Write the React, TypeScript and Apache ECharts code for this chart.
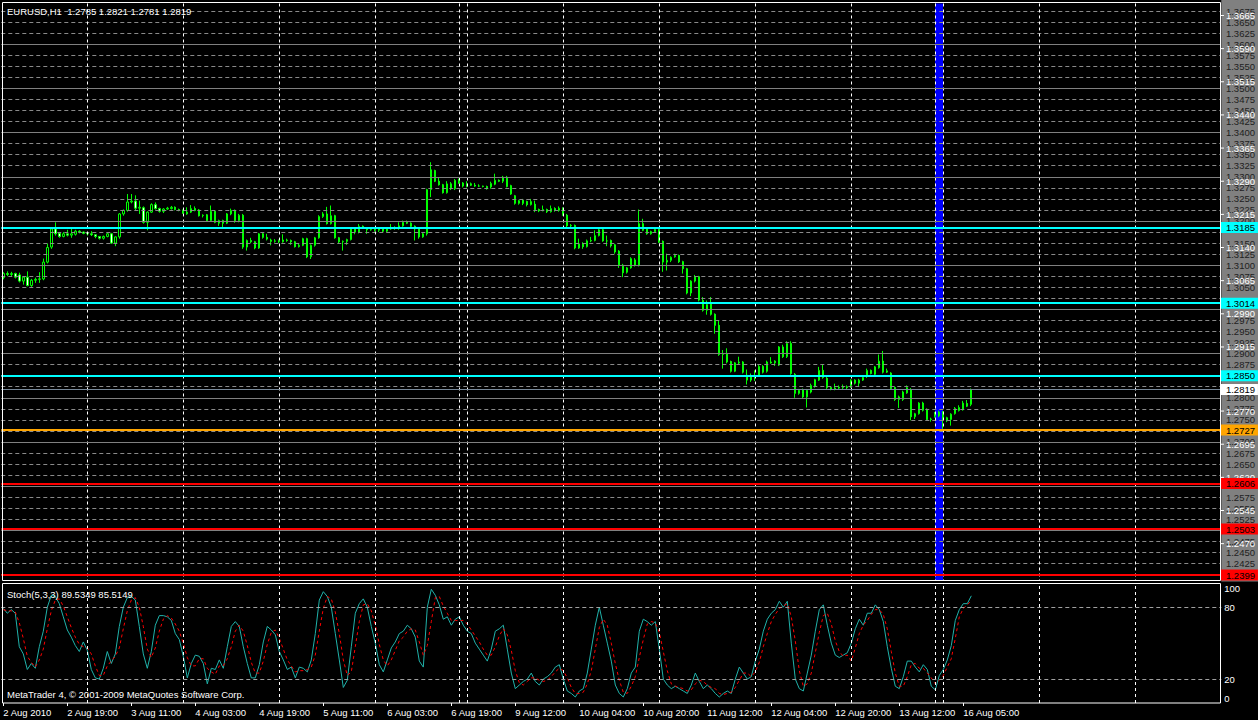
import { useEffect, useRef } from 'react';
import * as echarts from 'echarts';

// [open, high, low, close] per H1 bar, EURUSD
const ohlc: number[][] = [
  [1.3072,1.3084,1.3068,1.3081],[1.3081,1.3086,1.3075,1.3079],[1.3079,1.3085,1.3075,1.3081],[1.3081,1.3083,1.3070,1.3073],
  [1.3078,1.3083,1.3061,1.3064],[1.3064,1.3075,1.3056,1.3073],[1.3073,1.3086,1.3052,1.3054],[1.3054,1.3069,1.3051,1.3066],
  [1.3066,1.3072,1.3060,1.3068],[1.3068,1.3084,1.3060,1.3069],[1.3069,1.3115,1.3066,1.3107],[1.3107,1.3149,1.3104,1.3140],
  [1.3141,1.3186,1.3137,1.3182],[1.3182,1.3197,1.3167,1.3171],[1.3172,1.3175,1.3162,1.3165],[1.3165,1.3175,1.3163,1.3171],
  [1.3171,1.3180,1.3165,1.3168],[1.3168,1.3182,1.3162,1.3171],[1.3170,1.3180,1.3167,1.3177],[1.3177,1.3179,1.3172,1.3175],
  [1.3175,1.3176,1.3170,1.3172],[1.3172,1.3175,1.3167,1.3171],[1.3171,1.3177,1.3166,1.3169],[1.3169,1.3170,1.3161,1.3165],
  [1.3165,1.3166,1.3158,1.3161],[1.3161,1.3167,1.3158,1.3165],[1.3165,1.3175,1.3163,1.3171],[1.3171,1.3173,1.3148,1.3150],
  [1.3150,1.3165,1.3143,1.3164],[1.3164,1.3218,1.3160,1.3216],[1.3216,1.3226,1.3212,1.3224],[1.3224,1.3261,1.3221,1.3243],
  [1.3243,1.3261,1.3240,1.3245],[1.3245,1.3258,1.3224,1.3229],[1.3229,1.3246,1.3216,1.3231],[1.3230,1.3233,1.3194,1.3197],
  [1.3197,1.3222,1.3179,1.3220],[1.3220,1.3240,1.3218,1.3237],[1.3237,1.3242,1.3226,1.3228],[1.3228,1.3230,1.3219,1.3222],
  [1.3222,1.3229,1.3218,1.3227],[1.3227,1.3232,1.3225,1.3229],[1.3228,1.3234,1.3226,1.3231],[1.3231,1.3233,1.3224,1.3226],
  [1.3226,1.3228,1.3222,1.3224],[1.3224,1.3226,1.3216,1.3218],[1.3216,1.3231,1.3214,1.3220],[1.3220,1.3236,1.3218,1.3228],
  [1.3228,1.3233,1.3222,1.3224],[1.3225,1.3227,1.3210,1.3212],[1.3212,1.3215,1.3208,1.3213],[1.3214,1.3216,1.3199,1.3201],
  [1.3201,1.3235,1.3198,1.3222],[1.3222,1.3224,1.3195,1.3197],[1.3195,1.3203,1.3189,1.3201],[1.3201,1.3203,1.3186,1.3195],
  [1.3195,1.3218,1.3193,1.3216],[1.3216,1.3228,1.3213,1.3224],[1.3224,1.3226,1.3196,1.3201],[1.3201,1.3216,1.3197,1.3213],
  [1.3213,1.3216,1.3137,1.3141],[1.3141,1.3158,1.3133,1.3156],[1.3156,1.3162,1.3150,1.3153],[1.3153,1.3155,1.3136,1.3139],
  [1.3139,1.3173,1.3137,1.3171],[1.3171,1.3174,1.3160,1.3163],[1.3163,1.3171,1.3156,1.3159],[1.3157,1.3160,1.3145,1.3154],
  [1.3154,1.3159,1.3151,1.3155],[1.3155,1.3158,1.3150,1.3153],[1.3153,1.3170,1.3151,1.3157],[1.3157,1.3160,1.3153,1.3156],
  [1.3156,1.3158,1.3146,1.3153],[1.3153,1.3155,1.3140,1.3142],[1.3142,1.3148,1.3140,1.3145],[1.3145,1.3162,1.3143,1.3160],
  [1.3160,1.3162,1.3116,1.3119],[1.3119,1.3147,1.3114,1.3145],[1.3145,1.3164,1.3142,1.3162],[1.3162,1.3213,1.3160,1.3210],
  [1.3210,1.3220,1.3207,1.3216],[1.3216,1.3232,1.3192,1.3194],[1.3194,1.3235,1.3192,1.3212],[1.3212,1.3214,1.3160,1.3162],
  [1.3162,1.3164,1.3150,1.3153],[1.3153,1.3156,1.3133,1.3154],[1.3154,1.3160,1.3146,1.3158],[1.3158,1.3184,1.3156,1.3182],
  [1.3182,1.3184,1.3170,1.3175],[1.3175,1.3193,1.3172,1.3188],[1.3188,1.3190,1.3182,1.3184],[1.3184,1.3186,1.3171,1.3180],
  [1.3180,1.3184,1.3178,1.3181],[1.3181,1.3183,1.3176,1.3179],[1.3179,1.3184,1.3175,1.3182],[1.3182,1.3184,1.3175,1.3177],
  [1.3177,1.3184,1.3174,1.3182],[1.3182,1.3193,1.3180,1.3185],[1.3185,1.3188,1.3180,1.3184],[1.3184,1.3197,1.3180,1.3189],
  [1.3189,1.3201,1.3187,1.3197],[1.3197,1.3201,1.3193,1.3195],[1.3195,1.3197,1.3186,1.3188],[1.3188,1.3190,1.3156,1.3182],
  [1.3182,1.3184,1.3160,1.3164],[1.3164,1.3173,1.3162,1.3171],[1.3171,1.3273,1.3167,1.3271],[1.3271,1.3333,1.3254,1.3316],
  [1.3314,1.3316,1.3288,1.3290],[1.3290,1.3299,1.3280,1.3282],[1.3282,1.3284,1.3262,1.3264],[1.3264,1.3290,1.3262,1.3284],
  [1.3284,1.3288,1.3270,1.3273],[1.3273,1.3295,1.3270,1.3292],[1.3292,1.3296,1.3284,1.3286],[1.3286,1.3288,1.3276,1.3279],
  [1.3278,1.3290,1.3276,1.3284],[1.3284,1.3287,1.3279,1.3281],[1.3281,1.3286,1.3277,1.3279],[1.3279,1.3283,1.3277,1.3279],
  [1.3279,1.3280,1.3276,1.3278],[1.3278,1.3280,1.3271,1.3273],[1.3277,1.3289,1.3273,1.3285],[1.3283,1.3307,1.3281,1.3292],
  [1.3292,1.3294,1.3288,1.3290],[1.3290,1.3302,1.3286,1.3299],[1.3299,1.3302,1.3276,1.3278],[1.3280,1.3282,1.3259,1.3261],
  [1.3257,1.3259,1.3237,1.3240],[1.3240,1.3248,1.3237,1.3246],[1.3247,1.3250,1.3236,1.3240],[1.3244,1.3246,1.3233,1.3237],
  [1.3237,1.3250,1.3235,1.3244],[1.3238,1.3246,1.3220,1.3226],[1.3226,1.3228,1.3220,1.3223],[1.3223,1.3235,1.3222,1.3226],
  [1.3226,1.3228,1.3218,1.3221],[1.3221,1.3235,1.3219,1.3228],[1.3228,1.3231,1.3221,1.3224],[1.3224,1.3233,1.3221,1.3229],
  [1.3228,1.3231,1.3212,1.3215],[1.3213,1.3216,1.3186,1.3189],[1.3189,1.3193,1.3186,1.3190],[1.3190,1.3192,1.3136,1.3139],
  [1.3139,1.3160,1.3137,1.3148],[1.3148,1.3152,1.3137,1.3142],[1.3142,1.3158,1.3140,1.3155],[1.3155,1.3164,1.3152,1.3156],
  [1.3156,1.3179,1.3154,1.3167],[1.3167,1.3184,1.3165,1.3180],[1.3180,1.3182,1.3153,1.3155],[1.3155,1.3167,1.3143,1.3155],
  [1.3156,1.3158,1.3140,1.3144],[1.3146,1.3148,1.3126,1.3130],[1.3132,1.3134,1.3094,1.3100],[1.3100,1.3103,1.3073,1.3083],
  [1.3084,1.3096,1.3081,1.3094],[1.3094,1.3118,1.3092,1.3115],[1.3112,1.3116,1.3097,1.3100],[1.3100,1.3226,1.3097,1.3194],
  [1.3194,1.3205,1.3177,1.3179],[1.3182,1.3184,1.3169,1.3171],[1.3171,1.3178,1.3169,1.3176],[1.3176,1.3184,1.3174,1.3181],
  [1.3181,1.3184,1.3150,1.3152],[1.3154,1.3156,1.3085,1.3107],[1.3107,1.3126,1.3088,1.3111],[1.3111,1.3120,1.3107,1.3118],
  [1.3119,1.3126,1.3117,1.3122],[1.3122,1.3124,1.3105,1.3108],[1.3108,1.3110,1.3081,1.3092],[1.3092,1.3094,1.3034,1.3037],
  [1.3037,1.3066,1.3030,1.3064],[1.3064,1.3078,1.3061,1.3074],[1.3074,1.3076,1.3018,1.3021],[1.3020,1.3028,1.2995,1.2998],
  [1.2998,1.3020,1.2988,1.3011],[1.3012,1.3028,1.2986,1.2989],[1.2989,1.2991,1.2945,1.2964],[1.2964,1.2975,1.2895,1.2898],
  [1.2898,1.2908,1.2866,1.2900],[1.2900,1.2912,1.2878,1.2881],[1.2882,1.2884,1.2857,1.2860],[1.2860,1.2881,1.2858,1.2879],
  [1.2879,1.2893,1.2876,1.2881],[1.2881,1.2883,1.2855,1.2858],[1.2851,1.2864,1.2830,1.2840],[1.2840,1.2855,1.2836,1.2847],
  [1.2847,1.2862,1.2838,1.2849],[1.2849,1.2874,1.2847,1.2871],[1.2871,1.2874,1.2855,1.2858],[1.2860,1.2884,1.2857,1.2881],
  [1.2881,1.2892,1.2877,1.2879],[1.2879,1.2885,1.2872,1.2883],[1.2874,1.2917,1.2872,1.2915],[1.2915,1.2920,1.2890,1.2893],
  [1.2893,1.2928,1.2890,1.2923],[1.2923,1.2928,1.2852,1.2855],[1.2853,1.2856,1.2800,1.2810],[1.2810,1.2820,1.2807,1.2817],
  [1.2818,1.2821,1.2798,1.2802],[1.2802,1.2820,1.2778,1.2817],[1.2813,1.2832,1.2810,1.2828],[1.2826,1.2843,1.2823,1.2841],
  [1.2840,1.2870,1.2838,1.2862],[1.2862,1.2875,1.2843,1.2846],[1.2844,1.2847,1.2820,1.2823],[1.2823,1.2826,1.2817,1.2819],
  [1.2819,1.2832,1.2817,1.2822],[1.2822,1.2828,1.2820,1.2824],[1.2823,1.2830,1.2820,1.2825],[1.2825,1.2828,1.2819,1.2823],
  [1.2825,1.2842,1.2822,1.2840],[1.2840,1.2842,1.2830,1.2833],[1.2833,1.2843,1.2825,1.2840],[1.2840,1.2849,1.2838,1.2846],
  [1.2851,1.2866,1.2845,1.2862],[1.2862,1.2864,1.2853,1.2855],[1.2853,1.2872,1.2851,1.2870],[1.2868,1.2898,1.2866,1.2883],
  [1.2883,1.2906,1.2855,1.2858],[1.2858,1.2866,1.2856,1.2861],[1.2856,1.2858,1.2818,1.2821],[1.2823,1.2826,1.2793,1.2796],
  [1.2796,1.2805,1.2777,1.2802],[1.2796,1.2816,1.2793,1.2813],[1.2811,1.2828,1.2809,1.2823],[1.2819,1.2822,1.2749,1.2757],
  [1.2757,1.2766,1.2752,1.2764],[1.2764,1.2790,1.2762,1.2788],[1.2788,1.2791,1.2769,1.2772],[1.2774,1.2776,1.2748,1.2751],
  [1.2751,1.2755,1.2746,1.2752],[1.2758,1.2768,1.2755,1.2763],[1.2759,1.2771,1.2756,1.2768],[1.2768,1.2770,1.2730,1.2751],
  [1.2748,1.2757,1.2745,1.2755],[1.2751,1.2765,1.2737,1.2763],[1.2764,1.2779,1.2762,1.2776],[1.2771,1.2783,1.2769,1.2778],
  [1.2773,1.2793,1.2771,1.2788],[1.2787,1.2795,1.2779,1.2781],[1.2785,1.2821,1.2781,1.2819],
];

// Stochastic (5,3,3): main (%K) and signal (%D)
const stochMain: number[] = [
  79,75,78,75,47,41,28,33,29,47,60,80,90,89,83,72,61,55,48,43,
  51,44,28,21,20,29,43,33,41,64,80,88,89,86,64,41,29,43,65,73,
  73,72,69,58,53,39,21,33,40,39,33,16,29,28,36,29,47,64,68,64,
  47,33,21,21,32,51,64,61,57,43,36,28,30,21,30,29,26,36,58,86,
  93,89,80,58,36,13,19,47,75,83,87,80,64,50,32,26,36,46,51,58,
  60,65,62,55,35,30,80,95,90,82,70,72,
  65,70,72,65,60,58,50,45,40,35,45,60,62,65,
  45,25,12,
  15,18,20,25,18,15,20,22,25,30,32,
  20,10,8,5,10,12,
  25,45,65,80,
  65,50,35,15,8,5,12,25,30,
  60,70,68,65,68,
  45,20,15,12,14,12,10,
  8,15,25,18,12,15,12,8,5,8,10,8,
  20,30,25,20,22,35,45,60,70,75,78,85,80,85,
  50,20,12,10,
  25,40,60,78,82,
  65,50,40,38,40,42,
  50,62,70,65,75,75,82,78,68,47,29,14,12,22,35,35,30,26,32,28,14,11,23,28,36,48,69,78,83,83,89.5349,
];
const stochSignal: number[] = [
  78,77,77,76,67,54,39,34,30,36,45,62,77,86,87,81,72,63,55,49,
  47,46,41,31,23,23,31,35,39,46,62,77,86,88,80,64,45,38,46,60,
  70,73,71,66,60,50,38,31,31,37,37,29,26,24,31,31,37,47,60,65,
  60,48,34,25,25,35,49,59,61,54,45,36,31,26,27,27,28,30,40,60,
  79,89,87,76,58,36,23,26,47,68,82,83,77,65,49,36,31,36,44,52,
  55,60,62,61,51,40,48,68,88,89,81,75,
  69,69,69,69,66,61,56,51,45,40,40,47,56,62,
  57,44,27,
  17,15,18,21,21,19,18,19,22,26,29,
  27,21,13,8,8,9,
  16,27,45,63,
  70,65,50,33,19,9,8,14,22,
  38,53,66,68,67,
  59,43,27,16,14,13,12,
  10,11,16,19,18,15,13,12,8,7,8,9,
  13,19,25,25,22,26,34,47,58,68,74,79,81,83,
  72,52,27,14,
  16,25,42,59,73,
  75,66,52,43,39,40,
  35,46,58,65,69,74,78,78,74,62,43,25,14,14,22,32,33,29,29,25,21,16,19,23,30,37,54,72,79,82,85.5149,
];

// trading sessions: [day, first hour, last hour]
const sessions: [string, number, number][] = [
  ['2 Aug', 3, 23], ['3 Aug', 0, 23], ['4 Aug', 0, 23], ['5 Aug', 0, 23], ['6 Aug', 0, 20],
  ['8 Aug', 22, 23], ['9 Aug', 0, 23], ['10 Aug', 0, 23], ['11 Aug', 0, 23], ['12 Aug', 0, 23],
  ['13 Aug', 0, 20], ['15 Aug', 22, 23], ['16 Aug', 0, 23], ['17 Aug', 0, 23], ['18 Aug', 0, 23],
];
const SLOTS = 305;
const firstLabel = '2 Aug 2010';
const LABEL_EVERY = 16;
const LAST_LABEL = 240;

// price scale: axis runs 1.2375..1.3700 in steps of 0.0025; the visible panel is PANEL_LOW..PANEL_HIGH
const AXIS_MIN = 1.2375;
const AXIS_MAX = 1.37;
const TICK_STEP = 0.0025;
const PANEL_LOW = 1.23866;
const PANEL_HIGH = 1.36921;
// grid labels that are hidden behind the price tags in the reference
const coveredTicks = [1.3700, 1.3175, 1.3025, 1.3000, 1.2850, 1.2825, 1.2725, 1.2625, 1.2600, 1.2500, 1.2400, 1.2375];
const whiteTicks = [1.3665,1.3590,1.3515,1.3440,1.3365,1.3290,1.3215,1.3140,1.3065,1.2990,1.2915,1.2770,1.2695,1.2620,1.2545,1.2470];
const tagValues = [1.3185, 1.3014, 1.2850, 1.2727, 1.2606, 1.2503, 1.2399];
const tagColors = ['#00FFFF', '#00FFFF', '#00FFFF', '#FFA500', '#FF0000', '#FF0000', '#FF0000'];
const bidPrice = 1.2819;
const stochLevels = [80, 20];
const highlightFrom = 233;
const highlightTo = 235;

const titleText = 'EURUSD,H1  1.2785 1.2821 1.2781 1.2819';
const stochText = 'Stoch(5,3,3) 89.5349 85.5149';
const footerText = 'MetaTrader 4, © 2001-2009 MetaQuotes Software Corp.';

const FONT = '"Liberation Sans", Arial, sans-serif';
const FS = 9.5;

export default function App() {
  const ref = useRef<HTMLDivElement>(null);
  useEffect(() => {
    if (!ref.current) return;
    const chart = echarts.init(ref.current, undefined, { renderer: 'svg' });

    const categories: string[] = [];
    const dayStarts: number[] = [];
    sessions.forEach(([d, s, e], k) => {
      if (k > 0) dayStarts.push(categories.length);
      for (let h = s; h <= e; h++) categories.push(`${d} ${String(h).padStart(2, '0')}:00`);
    });
    categories.length = SLOTS;
    const starts = dayStarts.filter((i) => i < SLOTS);

    const candleData = ohlc.map(([o, h, l, c]) => [o, c, l, h]);
    const closes = ohlc.map((r) => r[3]);
    const pips = (v: number) => Math.round(v * 10000);
    const isRound = (v: number) => pips(v) % 100 === 0;
    const isCovered = (v: number) => coveredTicks.some((c) => pips(c) === pips(v));
    const showLabel = (i: number) => i % LABEL_EVERY === 0 && i <= LAST_LABEL;

    // horizontal levels every 0.0025 inside the panel
    const levels: number[] = [];
    for (let p = pips(AXIS_MIN); p <= pips(AXIS_MAX); p += pips(TICK_STEP)) {
      const v = p / 10000;
      if (v > PANEL_LOW && v < PANEL_HIGH) levels.push(v);
    }

    const vLinesMain = starts.map((i) => [
      { coord: [categories[i], PANEL_HIGH], lineStyle: { color: '#ffffff', type: [3, 3], width: 1 }, label: { show: false } },
      { coord: [categories[i], PANEL_LOW] },
    ]);
    const vLinesStoch = starts.map((i) => ({
      xAxis: categories[i],
      lineStyle: { color: '#ffffff', type: [3, 3], width: 1 },
      label: { show: false },
    }));

    const hidden = { symbol: 'none', silent: true, lineStyle: { opacity: 0 }, emphasis: { disabled: true } };
    const mlBase = { silent: true, symbol: ['none', 'none'], animation: false, precision: 5 };

    // top/height chosen so that AXIS_MAX..AXIS_MIN map onto the panel scale (PANEL_HIGH at y=2.7, PANEL_LOW at y=580.5)
    const pxPerUnit = 577.8 / (PANEL_HIGH - PANEL_LOW);
    const gridTop = 2.7 - (AXIS_MAX - PANEL_HIGH) * pxPerUnit;
    const gridHeight = (AXIS_MAX - AXIS_MIN) * pxPerUnit;

    chart.setOption({
      animation: false,
      backgroundColor: '#000000',
      textStyle: { fontFamily: FONT },
      grid: [
        { left: 1.3, top: gridTop, width: 1220, height: gridHeight },
        { left: 1.3, top: 583.3, width: 1220, height: 119.7 },
      ],
      xAxis: [
        {
          type: 'category', gridIndex: 0, data: categories, boundaryGap: true,
          axisLine: { show: false }, axisTick: { show: false }, axisLabel: { show: false }, splitLine: { show: false },
        },
        {
          type: 'category', gridIndex: 1, data: categories, boundaryGap: true,
          axisLine: { show: false },
          axisTick: { show: true, alignWithLabel: true, interval: (i: number) => showLabel(i), length: 3, lineStyle: { color: '#ffffff' } },
          axisLabel: {
            show: true, interval: (i: number) => showLabel(i),
            formatter: (v: string, i: number) => (i === 0 ? firstLabel : v),
            align: 'left', color: '#ffffff', fontSize: FS, fontFamily: FONT, margin: 4,
          },
          splitLine: { show: false },
        },
      ],
      yAxis: [
        {
          type: 'value', gridIndex: 0, min: AXIS_MIN, max: AXIS_MAX, interval: TICK_STEP, position: 'right', z: 1,
          axisLine: { show: false }, axisTick: { show: false }, splitLine: { show: false },
          axisLabel: {
            show: true, color: '#1e1e1e', fontSize: FS, fontFamily: FONT, margin: 5,
            formatter: (v: number) => (isCovered(v) ? '' : v.toFixed(4)),
          },
        },
        {
          type: 'value', gridIndex: 1, min: 0, max: 100, interval: 20, position: 'right',
          axisLine: { show: false }, axisTick: { show: false }, splitLine: { show: false },
          axisLabel: {
            show: true, color: '#ffffff', fontSize: FS, fontFamily: FONT, margin: 3,
            formatter: (v: number) => (v === 0 || v === 20 || v === 80 || v === 100 ? String(v) : ''),
            verticalAlignMaxLabel: 'top', verticalAlignMinLabel: 'bottom',
          },
        },
      ],
      series: [
        {
          type: 'line', xAxisIndex: 0, yAxisIndex: 0, data: closes, z: 1, ...hidden,
          markArea: {
            silent: true, itemStyle: { color: '#0000FF' },
            data: [[
              { xAxis: categories[highlightFrom], yAxis: PANEL_HIGH },
              { xAxis: categories[highlightTo], yAxis: PANEL_LOW },
            ]],
          },
          markLine: {
            ...mlBase,
            data: [
              ...levels.filter((v) => !isRound(v)).map((v) => ({
                yAxis: v, lineStyle: { color: '#8a8a8a', type: [4, 3], width: 1 }, label: { show: false },
              })),
              ...vLinesMain,
            ],
          },
        },
        {
          type: 'candlestick', xAxisIndex: 0, yAxisIndex: 0, data: candleData, z: 3, barWidth: 2,
          silent: true,
          itemStyle: { color: '#000000', color0: '#ffffff', borderColor: '#00ff00', borderColor0: '#00ff00', borderWidth: 1 },
        },
        {
          type: 'line', xAxisIndex: 0, yAxisIndex: 0, data: closes, z: 5, ...hidden,
          markLine: {
            ...mlBase,
            data: [
              ...levels.filter((v) => isRound(v)).map((v) => ({
                yAxis: v, lineStyle: { color: '#808080', type: 'solid', width: 1 }, label: { show: false },
              })),
              { yAxis: bidPrice, lineStyle: { color: '#778899', type: 'solid', width: 1 }, label: { show: false } },
              ...whiteTicks.map((v) => ({
                yAxis: v, lineStyle: { color: 'rgba(0,0,0,0)', width: 1, opacity: 1 },
                label: {
                  show: true, position: 'end', distance: 0, formatter: `{t|}{w|${v.toFixed(4)}}`,
                  color: '#ffffff', fontSize: FS, fontFamily: FONT,
                  rich: {
                    t: { width: 3, height: 1, backgroundColor: '#ffffff' },
                    w: { color: '#ffffff', fontSize: FS, fontFamily: FONT, padding: [0, 0, 0, 2] },
                  },
                },
              })),
            ],
          },
        },
        {
          type: 'line', xAxisIndex: 0, yAxisIndex: 0, data: closes, z: 6, ...hidden,
          markLine: {
            ...mlBase,
            data: [
              ...tagValues.map((v, k) => ({
                yAxis: v, lineStyle: { color: tagColors[k], type: 'solid', width: 2 },
                label: {
                  show: true, position: 'end', distance: 0, formatter: v.toFixed(4),
                  color: '#000000', backgroundColor: tagColors[k], padding: [1, 3, 0, 5], width: 29,
                  fontSize: FS, lineHeight: 10, fontFamily: FONT,
                },
              })),
              {
                yAxis: bidPrice, lineStyle: { color: 'rgba(0,0,0,0)', width: 1 },
                label: {
                  show: true, position: 'end', distance: 0, formatter: bidPrice.toFixed(4),
                  color: '#000000', backgroundColor: '#ffffff', padding: [1, 3, 0, 5], width: 29,
                  fontSize: FS, lineHeight: 10, fontFamily: FONT,
                },
              },
            ],
          },
        },
        {
          type: 'line', xAxisIndex: 1, yAxisIndex: 1, data: stochMain, z: 1, ...hidden,
          markLine: {
            ...mlBase,
            data: [
              ...stochLevels.map((v) => ({ yAxis: v, lineStyle: { color: '#a0a0a0', type: [4, 3], width: 1 }, label: { show: false } })),
              ...vLinesStoch,
            ],
          },
        },
        {
          type: 'line', xAxisIndex: 1, yAxisIndex: 1, data: stochMain, z: 3, symbol: 'none', silent: true,
          lineStyle: { color: '#20B2AA', width: 1 },
        },
        {
          type: 'line', xAxisIndex: 1, yAxisIndex: 1, data: stochSignal, z: 4, symbol: 'none', silent: true,
          lineStyle: { color: '#FF0000', width: 1, type: [3, 3] },
        },
      ],
      graphic: {
        elements: [
          { type: 'rect', z: 0, silent: true, shape: { x: 1221.3, y: 0, width: 37, height: 581.5 }, style: { fill: '#808080' } },
          { type: 'rect', z: 50, silent: true, shape: { x: 2.5, y: 2.5, width: 1218, height: 578 }, style: { fill: 'none', stroke: '#ffffff', lineWidth: 1 } },
          { type: 'rect', z: 50, silent: true, shape: { x: 2.5, y: 583.5, width: 1218, height: 119.5 }, style: { fill: 'none', stroke: '#ffffff', lineWidth: 1 } },
          { type: 'text', z: 60, silent: true, x: 7, y: 11, style: { text: titleText, fill: '#ffffff', fontSize: FS, fontFamily: FONT, verticalAlign: 'middle' } },
          { type: 'text', z: 60, silent: true, x: 7, y: 594, style: { text: stochText, fill: '#ffffff', fontSize: FS, fontFamily: FONT, verticalAlign: 'middle' } },
          { type: 'text', z: 60, silent: true, x: 7, y: 694, style: { text: footerText, fill: '#ffffff', fontSize: FS, fontFamily: FONT, verticalAlign: 'middle' } },
        ],
      },
    });
    return () => chart.dispose();
  }, []);

  return (
    <div style={{ position: 'fixed', left: 0, top: 0, width: 1258, height: 720, background: '#000' }}>
      <div ref={ref} style={{ width: 1258, height: 720 }} />
    </div>
  );
}
